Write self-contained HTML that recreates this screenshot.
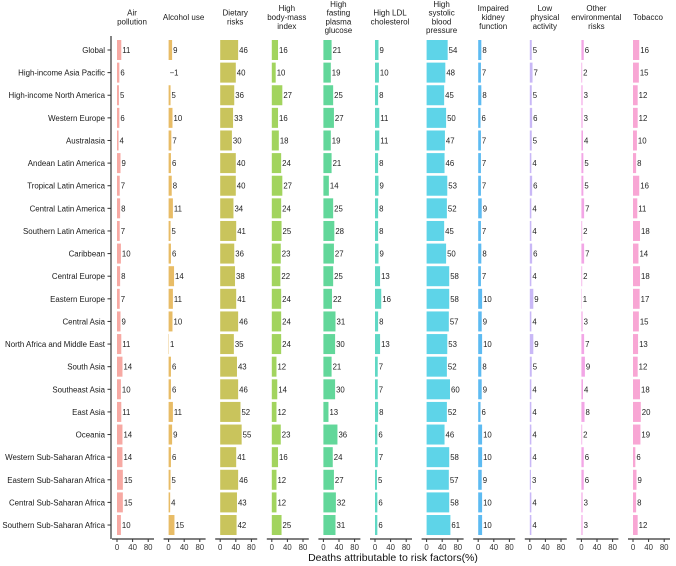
<!DOCTYPE html>
<html><head><meta charset="utf-8"><style>
body{margin:0;background:#fff;}
svg{display:block;font-family:"Liberation Sans",sans-serif;}
</style></head><body>
<svg id="c" width="676" height="566"></svg>
<script>
const regions=["Global","High-income Asia Pacific","High-income North America","Western Europe","Australasia","Andean Latin America","Tropical Latin America","Central Latin America","Southern Latin America","Caribbean","Central Europe","Eastern Europe","Central Asia","North Africa and Middle East","South Asia","Southeast Asia","East Asia","Oceania","Western Sub-Saharan Africa","Eastern Sub-Saharan Africa","Central Sub-Saharan Africa","Southern Sub-Saharan Africa"];
const factors=[["Air","pollution"],["Alcohol use"],["Dietary","risks"],["High","body-mass","index"],["High","fasting","plasma","glucose"],["High LDL","cholesterol"],["High","systolic","blood","pressure"],["Impaired","kidney","function"],["Low","physical","activity"],["Other","environmental","risks"],["Tobacco"]];
const colors=["#F7A9A3","#E8BC66","#C9C45C","#A2D45E","#62D79A","#5FD8C4","#5ED4E8","#5DBBF2","#C9B8F6","#F2A6E6","#F8A6D4"];
const airPollution=[11,6,5,6,4,9,7,8,7,10,8,7,9,11,14,10,11,14,14,15,15,10];
const alcoholUse=[9,-1,5,10,7,6,8,11,5,6,14,11,10,1,6,6,11,9,6,5,4,15];
const dietaryRisks=[46,40,36,33,30,40,40,34,41,36,38,41,46,35,43,46,52,55,41,46,43,42];
const highBMI=[16,10,27,16,18,24,27,24,25,23,22,24,24,24,12,14,12,23,16,12,12,25];
const highGlucose=[21,19,25,27,19,21,14,25,28,27,25,22,31,30,21,30,13,36,24,27,32,31];
const highLDL=[9,10,8,11,11,8,9,8,8,9,13,16,8,13,7,7,8,6,7,5,6,6];
const highSBP=[54,48,45,50,47,46,53,52,45,50,58,58,57,53,52,60,52,46,58,57,58,61];
const kidney=[8,7,8,6,7,7,7,9,7,8,7,10,9,10,8,9,6,10,10,9,10,10];
const lowActivity=[5,7,5,6,5,4,6,4,4,6,4,9,4,9,5,4,4,4,4,3,4,4];
const otherEnv=[6,2,3,3,4,5,5,7,2,7,2,1,3,7,9,4,8,2,6,6,3,3];
const tobacco=[16,15,12,12,10,8,16,11,18,14,18,17,15,13,12,18,20,19,6,9,8,12];
const series=[airPollution,alcoholUse,dietaryRisks,highBMI,highGlucose,highLDL,highSBP,kidney,lowActivity,otherEnv,tobacco];
const ticks=[0,40,80];

const svg=document.getElementById('c');
const NS='http://www.w3.org/2000/svg';
function mk(tag,attrs,parent){const e=document.createElementNS(NS,tag);for(const k in attrs)e.setAttribute(k,attrs[k]);(parent||svg).appendChild(e);return e;}
const step=22.62, y0=50, bandH=20;
const yPos=i=>y0+i*step;
const panelX0=p=>117+p*51.6;
const scale=0.39;
const xPos=(p,v)=>panelX0(p)+v*scale;
const axisY=539;

let ya=mk('line',{x1:111,x2:111,y1:36,y2:axisY,stroke:'#333','stroke-width':1.2});

regions.forEach((r,i)=>{
  let t=mk('line',{x1:107.5,x2:111,y1:yPos(i),y2:yPos(i),stroke:'#333','stroke-width':1});
  
  let l=mk('text',{x:105,y:yPos(i)+3,'text-anchor':'end','font-size':7.9,fill:'#1a1a1a'});
  l.textContent=r;
  
});

factors.forEach((f,p)=>{
  const g=mk('g',{});
  
  
  const cx=panelX0(p)+15;
  const lh=8.8, n=f.length;
  f.forEach((line,k)=>{
    let t=mk('text',{x:cx,y:17+(k-(n-1)/2)*lh+3,'text-anchor':'middle','font-size':8,fill:'#1a1a1a'},g);
    t.textContent=line;
    
  });
  series[p].forEach((v,i)=>{
    const xa=xPos(p,0), xb=xPos(p,Math.max(v,0));
    if(v>0){
      let b=mk('rect',{x:xa,y:yPos(i)-bandH/2,width:xb-xa,height:bandH,fill:colors[p]},g);
      
    }
    let t=mk('text',{x:xb+1,y:yPos(i)+3,'font-size':7.8,fill:'#222'},g);
    t.textContent=String(v).replace('-','\u2212');
    
  });
  let ax=mk('line',{x1:panelX0(p)-5,x2:panelX0(p)+37,y1:axisY,y2:axisY,stroke:'#333','stroke-width':1.2},g);
  
  ticks.forEach(tv=>{
    let tk=mk('line',{x1:xPos(p,tv),x2:xPos(p,tv),y1:axisY,y2:axisY+3,stroke:'#333'},g);
    
    let tl=mk('text',{x:xPos(p,tv),y:axisY+11,'text-anchor':'middle','font-size':7.8,fill:'#333'},g);
    tl.textContent=tv;
    
  });
});
let title=mk('text',{x:393,y:561,'text-anchor':'middle','font-size':10.5,fill:'#111'});
title.textContent='Deaths attributable to risk factors(%)';

</script>
</body></html>
